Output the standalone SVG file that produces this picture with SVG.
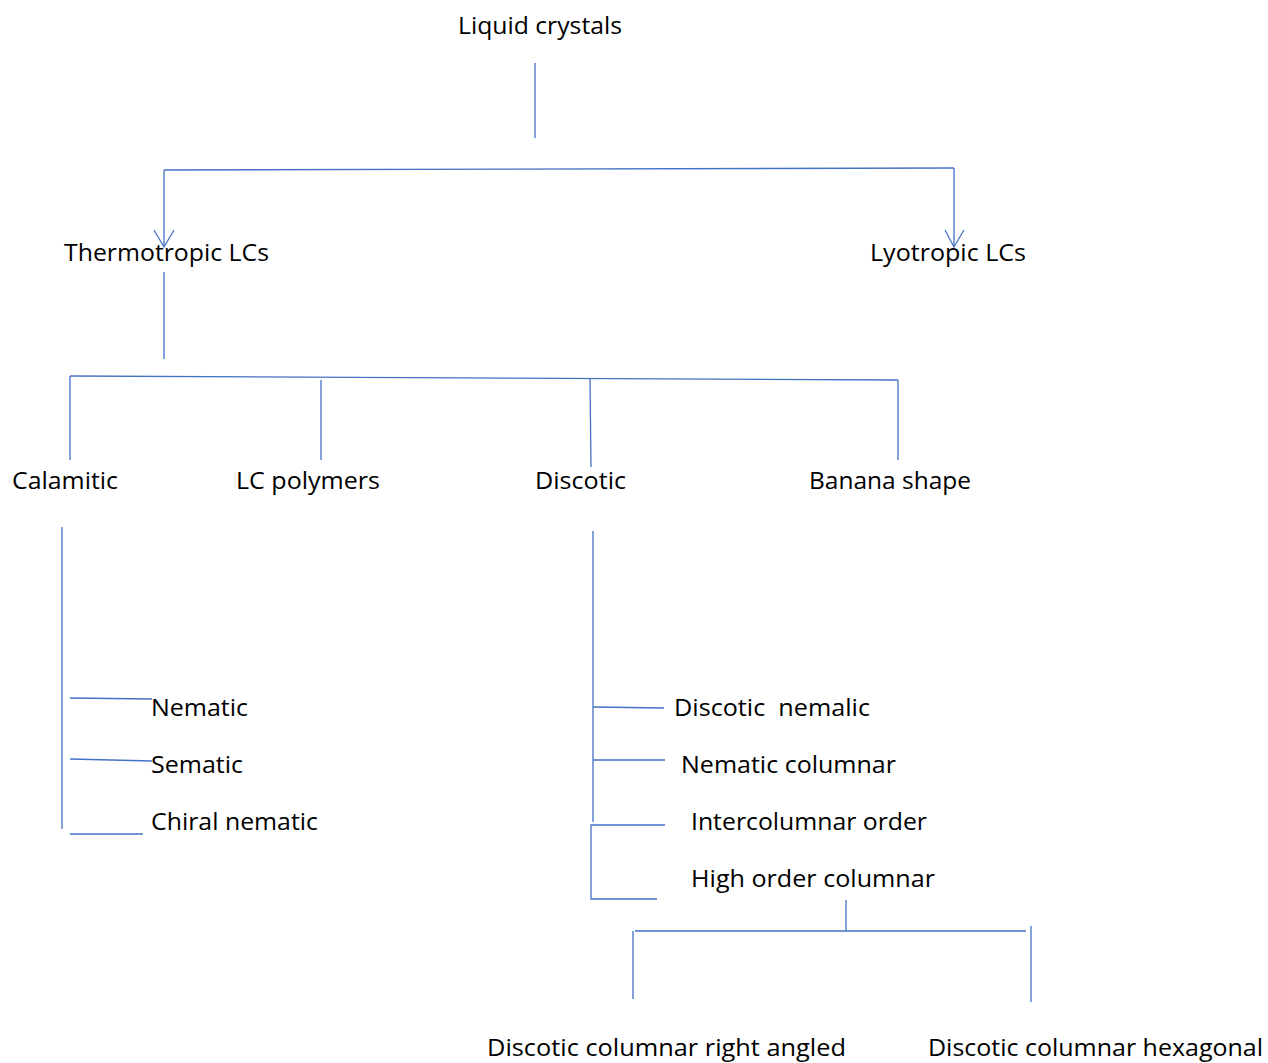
<svg xmlns="http://www.w3.org/2000/svg" width="1268" height="1063" viewBox="0 0 1268 1063">
<style>
text{font-family:"Open Sans","Noto Sans","Liberation Sans",sans-serif;font-size:24px;fill:#000;white-space:pre}
.c line,.c path,.c polyline{stroke:#4472C4;stroke-width:1.3;fill:none}
</style>
<rect width="1268" height="1063" fill="#fff"/>
<g class="c" id="connectors">
<line x1="535" y1="63" x2="535" y2="138"/>
<line x1="164" y1="170" x2="954" y2="168"/>
<line x1="164" y1="170" x2="164" y2="247"/>
<polyline points="154,230 164,247 174,230"/>
<line x1="954" y1="168" x2="954" y2="247"/>
<polyline points="945,230 954,247 964,230"/>
<line x1="164" y1="272" x2="164" y2="359"/>
<line x1="70" y1="376" x2="898" y2="380"/>
<line x1="70" y1="376" x2="70" y2="460"/>
<line x1="321" y1="380" x2="321" y2="460"/>
<line x1="590" y1="379" x2="591" y2="467"/>
<line x1="898" y1="380" x2="898" y2="460"/>
<line x1="62" y1="527" x2="62" y2="829"/>
<line x1="70" y1="698" x2="152" y2="699"/>
<line x1="70" y1="759" x2="152" y2="761"/>
<line x1="70" y1="834" x2="143" y2="834"/>
<line x1="593" y1="531" x2="593" y2="822"/>
<line x1="593" y1="707" x2="664" y2="708"/>
<line x1="593" y1="760" x2="665" y2="760"/>
<polyline points="665,825 591,825 591,899 657,899"/>
<line x1="846" y1="900" x2="846" y2="931"/>
<line x1="635" y1="931" x2="1026" y2="931"/>
<line x1="633" y1="931" x2="633" y2="999"/>
<line x1="1031" y1="926" x2="1031" y2="1002"/>
</g>
<g id="n-liquid"><text x="458" y="34" textLength="164" lengthAdjust="spacingAndGlyphs">Liquid crystals</text></g>
<g id="n-thermo"><text x="64" y="261" textLength="205" lengthAdjust="spacingAndGlyphs">Thermotropic LCs</text></g>
<g id="n-lyo"><text x="870" y="261" textLength="156" lengthAdjust="spacingAndGlyphs">Lyotropic LCs</text></g>
<g id="n-calamitic"><text x="12" y="489" textLength="106" lengthAdjust="spacingAndGlyphs">Calamitic</text></g>
<g id="n-lcpoly"><text x="236" y="489" textLength="144" lengthAdjust="spacingAndGlyphs">LC polymers</text></g>
<g id="n-discotic"><text x="535" y="489" textLength="91" lengthAdjust="spacingAndGlyphs">Discotic</text></g>
<g id="n-banana"><text x="809" y="489" textLength="162" lengthAdjust="spacingAndGlyphs">Banana shape</text></g>
<g id="n-nematic"><text x="151" y="716" textLength="97" lengthAdjust="spacingAndGlyphs">Nematic</text></g>
<g id="n-sematic"><text x="151" y="773" textLength="92" lengthAdjust="spacingAndGlyphs">Sematic</text></g>
<g id="n-chiral"><text x="151" y="830" textLength="167" lengthAdjust="spacingAndGlyphs">Chiral nematic</text></g>
<g id="n-dnemalic"><text x="674" y="716" textLength="196" lengthAdjust="spacingAndGlyphs">Discotic  nemalic</text></g>
<g id="n-ncol"><text x="681" y="773" textLength="215" lengthAdjust="spacingAndGlyphs">Nematic columnar</text></g>
<g id="n-inter"><text x="691" y="830" textLength="236" lengthAdjust="spacingAndGlyphs">Intercolumnar order</text></g>
<g id="n-high"><text x="691" y="887" textLength="244" lengthAdjust="spacingAndGlyphs">High order columnar</text></g>
<g id="n-right"><text x="487" y="1056" textLength="359" lengthAdjust="spacingAndGlyphs">Discotic columnar right angled</text></g>
<g id="n-hex"><text x="928" y="1056" textLength="335" lengthAdjust="spacingAndGlyphs">Discotic columnar hexagonal</text></g>
</svg>
